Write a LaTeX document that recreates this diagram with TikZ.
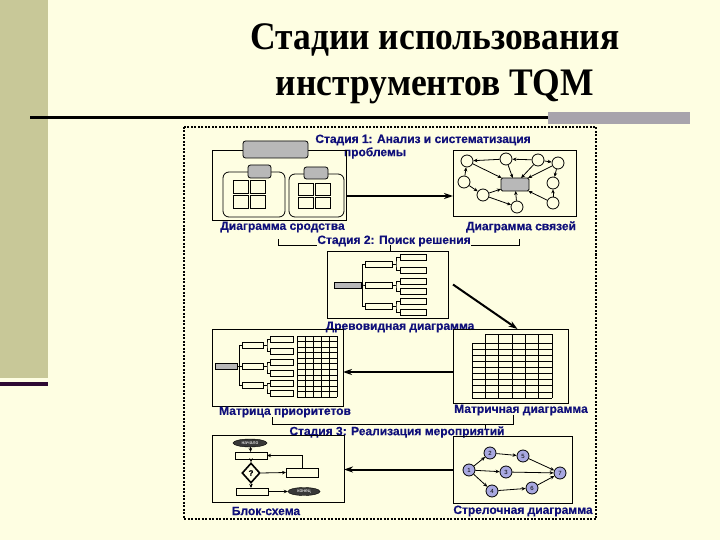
\documentclass[tikz,border=0pt]{standalone}
\usepackage{fontspec}
\setmainfont{Liberation Serif}
\newfontfamily\lab{Liberation Sans}[BoldFeatures={FakeBold=0.4}]
\usetikzlibrary{arrows.meta,shapes.geometric}
\definecolor{bg}{HTML}{FEFEE2}
\definecolor{strip}{HTML}{C8C898}
\definecolor{darkline}{HTML}{2E0A33}
\definecolor{graybar}{HTML}{A8A4AC}
\definecolor{labblue}{HTML}{10107A}
\definecolor{grayf}{HTML}{B8B8B8}
\definecolor{lav}{HTML}{A8A8E0}
\definecolor{darkf}{HTML}{383838}
\newcommand\rbx[6][]{\node[bx,#1,anchor=north west,minimum width={(#5-#3)*1pt},minimum height={(#6-#4)*1pt}] (#2) at (#3,#4) {};}
\begin{document}
\begin{tikzpicture}[x=1pt,y=-1pt,
  bx/.style={draw=black,line width=0.8pt,inner sep=0pt,outer sep=0pt},
  gbx/.style={fill=grayf,rounded corners=2.5pt},
  title/.style={font=\bfseries\fontsize{39}{44}\selectfont,text=black,inner sep=0pt,anchor=base},
  lbl/.style={font=\lab\bfseries\fontsize{12}{13}\selectfont,text=labblue,inner sep=0pt},
  cir/.style={circle,draw,line width=0.8pt,minimum size=12pt,inner sep=0pt},
  num/.style={circle,draw,line width=0.8pt,fill=lav,minimum size=12pt,inner sep=0pt,font=\lab\fontsize{6}{6}\selectfont},
  term/.style={ellipse,draw,fill=darkf,text=white,inner sep=0pt,font=\lab\fontsize{5}{5}\selectfont},
  sa/.style={line width=0.8pt,-{Stealth[length=4pt,width=3.5pt]}},
  big/.style={line width=2pt,-{Stealth[length=9pt,width=6pt]}},
  brk/.style={line width=0.8pt},
  grd/.style={line width=0.6pt}
]
\useasboundingbox (0,0) rectangle (720,540);
\fill[bg] (0,0) rectangle (720,540);
\fill[strip] (0,0) rectangle (48,378);
\fill[darkline] (0,381.5) rectangle (48,385.5);
% title
\node[title] (ttl1) at (435,50) {\scalebox{0.91}[1]{Стадии использования}};
\node[title] (ttl2) at (435,96) {\scalebox{0.91}[1]{инструментов TQM}};
\draw[line width=3pt,black] (30,118) -- (548,118);
\fill[graybar] (548,112.5) rectangle (690,124.5);
% dotted frame
\draw[line width=2pt,dash pattern=on 2pt off 1.5pt] (184,127) rectangle (596,519);

% ---- Stage 1
\node[lbl] (s1a) at (423,140) {Стадия 1: Анализ и систематизация};
\node[lbl] (s1b) at (375,153) {проблемы};
% affinity diagram
\rbx{aff}{212}{150}{346}{220}
\rbx[gbx]{affh}{243}{141}{308}{158}
\rbx[rounded corners=6pt]{affl}{223}{172}{285}{217}
\rbx[gbx]{afflh}{248}{165}{271}{178}
\rbx[rounded corners=6pt]{affr}{289}{174}{344}{217}
\rbx[gbx]{affrh}{304}{167}{328}{179}
\rbx{q1}{233}{180}{248}{193}
\rbx{q2}{250}{180}{265}{193}
\rbx{q3}{233}{195}{248}{208}
\rbx{q4}{250}{195}{265}{208}
\rbx{q5}{298}{183}{313}{195}
\rbx{q6}{315}{183}{330}{195}
\rbx{q7}{298}{197}{313}{208}
\rbx{q8}{315}{197}{330}{208}
\node[lbl] (laff) at (282.5,227) {Диаграмма сродства};
% relations diagram
\rbx{con}{453}{150}{576}{216}
\rbx[fill=grayf,rounded corners=1.5pt]{cr}{501}{178}{529}{191}
\node[cir] (ca) at (467,161) {};
\node[cir] (cb) at (506,159) {};
\node[cir] (cc) at (538,160) {};
\node[cir] (cd) at (558,163) {};
\node[cir] (ce) at (464,182) {};
\node[cir] (cf) at (553,183) {};
\node[cir] (cg) at (483,195) {};
\node[cir] (ch) at (517,207) {};
\node[cir] (ci) at (553,203) {};
\draw[sa] (cb) -- (ca);
\draw[sa] (cc) -- (cb);
\draw[sa] (cb) -- (cr);
\draw[sa] (cc) -- (cr);
\draw[sa] (cc) -- (cd);
\draw[sa] (cd) -- (cr);
\draw[sa] (cd) -- (cf);
\draw[sa] (ci) -- (cf);
\draw[sa] (ci) -- (cr);
\draw[sa] (ce) -- (ca);
\draw[sa] (ca) -- (cr);
\draw[sa] (ce) -- (cg);
\draw[sa] (cg) -- (cr);
\draw[sa] (cg) -- (ch);
\draw[sa] (ch) -- (cr);
\node[lbl] (lcon) at (521,227) {Диаграмма связей};
\coordinate (a1) at ([yshift=-11pt]aff.east);
\draw[big] (a1) -- (a1 -| con.west);

% ---- Stage 2
\draw[brk] (278,239) -- (278,245) -- (519,245) -- (519,239);
\node[lbl,fill=bg,inner sep=0.5pt] (s2) at (394,241) {Стадия 2: Поиск решения};
% tree diagram
\rbx{tree}{327}{251}{448}{318}
\draw[brk] ([xshift=2.5pt]tree.north) -- ++(0,-6);
\rbx[fill=grayf]{tg}{334}{282}{361}{288}
\rbx{t1}{365}{261.5}{392}{267.5}
\rbx{t2}{365}{282.5}{392}{288.5}
\rbx{t3}{365}{303}{392}{309}
\rbx{u1}{400}{254}{426}{260}
\rbx{u2}{400}{267}{426}{273}
\rbx{u3}{400}{278}{426}{284}
\rbx{u4}{400}{288.5}{426}{294.5}
\rbx{u5}{400}{298}{426}{304}
\rbx{u6}{400}{309}{426}{315}
\draw[brk] (tg.east) -- (t2.west);
\draw[brk] (t1.west) -- ++(-3,0) |- (t3.west);
\draw[brk] (t1.east) -- ++(4,0) coordinate (tj1);
\draw[brk] (u1.west) -| (tj1) |- (u2.west);
\draw[brk] (t2.east) -- ++(4,0) coordinate (tj2);
\draw[brk] (u3.west) -| (tj2) |- (u4.west);
\draw[brk] (t3.east) -- ++(4,0) coordinate (tj3);
\draw[brk] (u5.west) -| (tj3) |- (u6.west);
\node[lbl] (ltree) at (400,327) {Древовидная диаграмма};
% matrix diagram
\rbx{mat}{453}{329}{568}{403}
\foreach \i in {1,...,6} \draw[grd] (472+80/6*\i,334) -- (472+80/6*\i,398);
\draw[grd] (472,343) -- (472,398);
\draw[grd] (472+80/6,334) -- (552,334);
\foreach \k in {0,...,9} \draw[grd] (472,343+55/9*\k) -- (552,343+55/9*\k);
\node[lbl] (lmat) at (521,410) {Матричная диаграмма};
\coordinate (a2s) at ([xshift=5pt]tree.east);
\coordinate (a2e) at ([xshift=7pt]mat.north);
\draw[big] (a2s) -- (a2e);
% priority matrix
\rbx{pri}{212}{329}{343}{406}
\rbx[fill=grayf]{pg}{215}{363}{237}{369}
\rbx{p1}{242}{342.5}{263}{348}
\rbx{p2}{242}{363}{263}{369}
\rbx{p3}{242}{382.5}{263}{388}
\rbx{v1}{270}{336}{293}{342}
\rbx{v2}{270}{348}{293}{354}
\rbx{v3}{270}{359}{293}{365}
\rbx{v4}{270}{370}{293}{376}
\rbx{v5}{270}{380}{293}{386}
\rbx{v6}{270}{390}{293}{396}
\draw[brk] (pg.east) -- (p2.west);
\draw[brk] (p1.west) -- ++(-3,0) |- (p3.west);
\draw[brk] (p1.east) -- ++(4,0) coordinate (pj1);
\draw[brk] (v1.west) -| (pj1) |- (v2.west);
\draw[brk] (p2.east) -- ++(4,0) coordinate (pj2);
\draw[brk] (v3.west) -| (pj2) |- (v4.west);
\draw[brk] (p3.east) -- ++(4,0) coordinate (pj3);
\draw[brk] (v5.west) -| (pj3) |- (v6.west);
\foreach \i in {0,...,5} \draw[grd] (297+8*\i,336) -- (297+8*\i,397);
\foreach \j in {0,...,11} \draw[grd] (297,336+61/11*\j) -- (337,336+61/11*\j);
\node[lbl] (lpri) at (285,412) {Матрица приоритетов};
\coordinate (a3) at ([yshift=-6pt]mat.west);
\draw[big] (a3) -- (a3 -| pri.east);

% ---- Stage 3
\draw[brk] (272,417) -- (272,424) -- (513,424) -- (513,415);
\draw[brk] (485,424) -- (485,429);
\node[lbl] (s3) at (397,432) {Стадия 3: Реализация мероприятий};
% block scheme
\rbx{blk}{212}{435}{344}{502}
\node[term,minimum width=34pt,minimum height=8pt] (bst) at (250,443) {начало};
\rbx{br1}{235}{452}{267}{459}
\node[diamond,draw,line width=1.6pt,minimum width=18pt,minimum height=20pt,inner sep=0pt,font=\lab\bfseries\fontsize{8}{8}\selectfont] (bd) at (251,473) {?};
\rbx{brr}{286}{468}{318}{477}
\rbx{brb}{236}{488}{268}{495}
\node[term,minimum width=32pt,minimum height=8pt] (ben) at (304,491.5) {конец};
\draw[sa] (bst) -- (br1);
\draw[sa] (br1) -- (bd);
\draw[sa] (bd.east) -- (brr.west);
\draw[sa] (brr.north) |- (br1.east);
\draw[sa] (bd.south) -- (bd.south |- brb.north);
\draw[sa] (brb.east) -- (ben.west);
\node[lbl] (lblk) at (266,511) {Блок-схема};
% arrow diagram
\rbx{arr}{453}{436}{572}{503}
\node[num] (n1) at (469,470) {1};
\node[num] (n2) at (490,453) {2};
\node[num] (n3) at (506,472) {3};
\node[num] (n4) at (492,491) {4};
\node[num] (n5) at (523,456) {5};
\node[num] (n6) at (532,488) {6};
\node[num] (n7) at (560,473) {7};
\draw[sa] (n1) -- (n2);
\draw[sa] (n2) -- (n5);
\draw[sa] (n5) -- (n7);
\draw[sa] (n1) -- (n3);
\draw[sa] (n3) -- (n7);
\draw[sa] (n1) -- (n4);
\draw[sa] (n4) -- (n6);
\draw[sa] (n6) -- (n7);
\node[lbl] (larr) at (523,511) {Стрелочная диаграмма};
\draw[big] (arr.west) -- (arr.west -| blk.east);
\end{tikzpicture}
\end{document}
